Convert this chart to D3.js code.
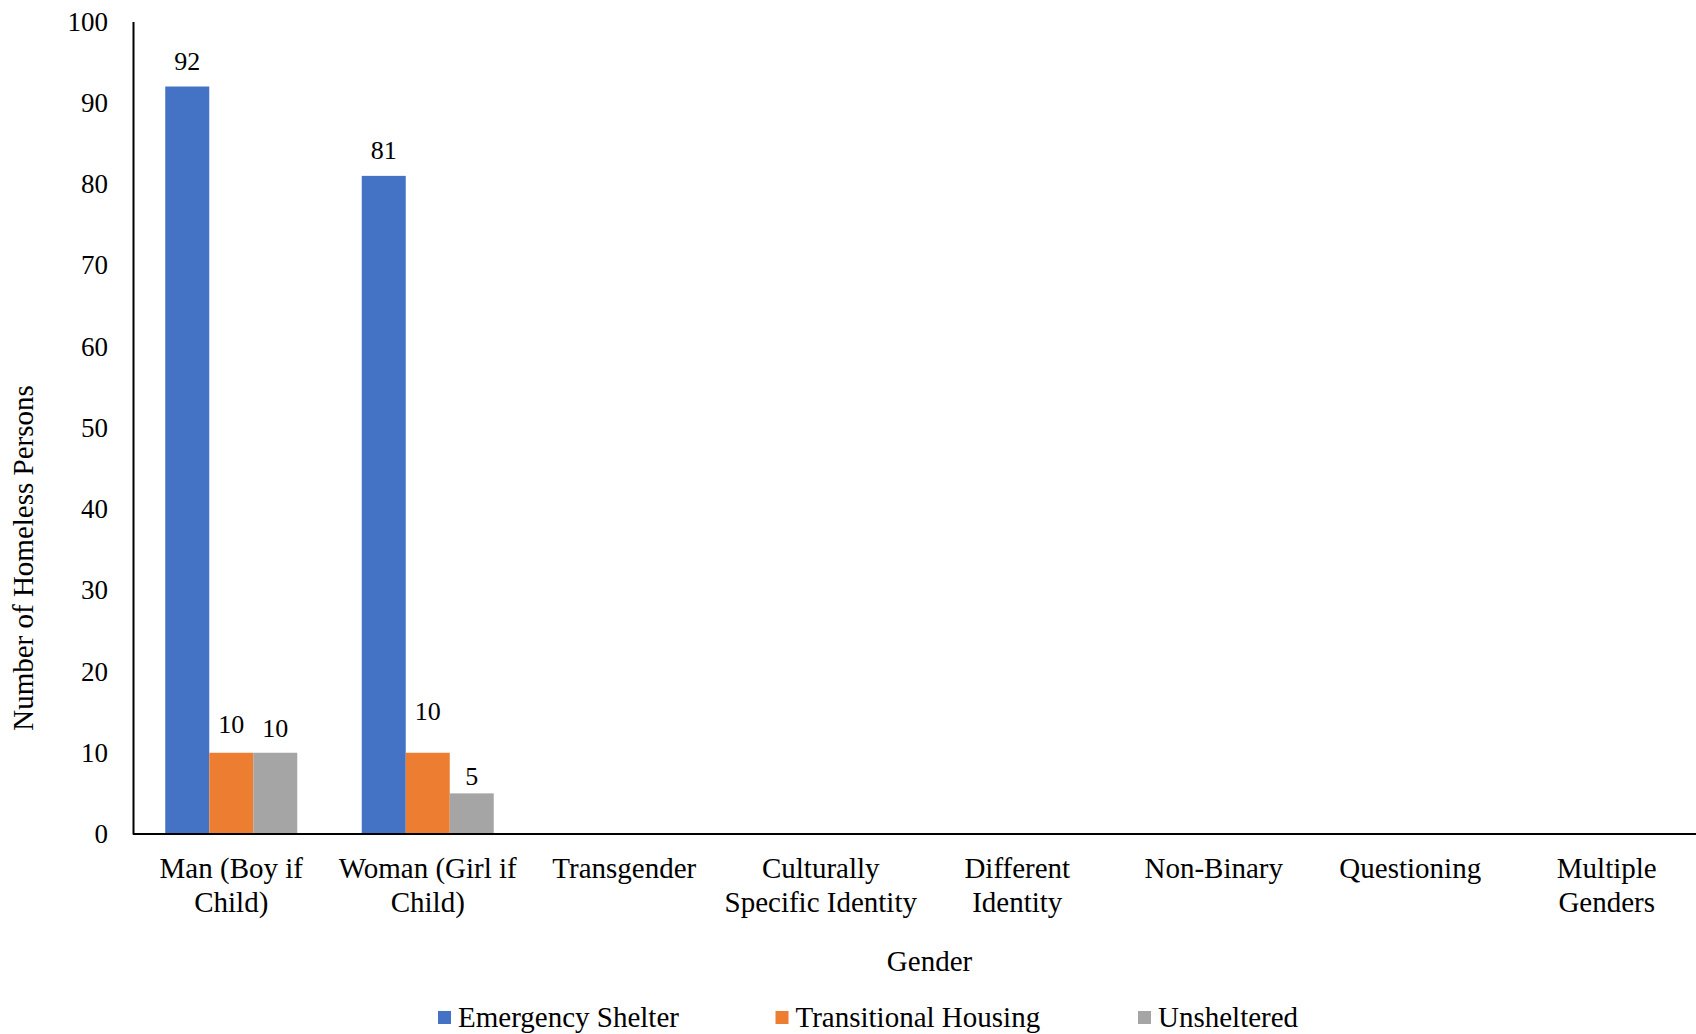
<!DOCTYPE html>
<html>
<head>
<meta charset="utf-8">
<script src="https://cdn.jsdelivr.net/npm/d3@7"></script>
<style>
  html, body { margin: 0; padding: 0; background: #fff; }
  svg { display: block; font-family: "Liberation Serif", "Times New Roman", serif; }
</style>
</head>
<body>
<svg id="chart" width="1696" height="1034"></svg>
<script>
// ---- data ----
const categories = [
  ["Man (Boy if", "Child)"],
  ["Woman (Girl if", "Child)"],
  ["Transgender"],
  ["Culturally", "Specific Identity"],
  ["Different", "Identity"],
  ["Non-Binary"],
  ["Questioning"],
  ["Multiple", "Genders"]
];
const seriesNames = ["Emergency Shelter", "Transitional Housing", "Unsheltered"];
const emergencyShelter   = [92, 81, null, null, null, null, null, null];
const transitionalHousing = [10, 10, null, null, null, null, null, null];
const unsheltered        = [10, 5, null, null, null, null, null, null];
const yTicks = [0, 10, 20, 30, 40, 50, 60, 70, 80, 90, 100];

// ---- styles / layout ----
const colors = ["#4472C4", "#ED7D31", "#A5A5A5"];
// extra vertical offset of individual data labels (px), as placed in the original
const labelNudge = { "1-0": 3, "2-0": -1, "1-1": 16, "2-1": -9 };

const seriesValues = [emergencyShelter, transitionalHousing, unsheltered];
const catKeys = categories.map(c => c.join(" "));

const svg = d3.select("#chart");
const mLeft = 133, mTop = 21.5, mBottom = 834, step = 196.5;

const x0 = d3.scaleBand().domain(catKeys).range([mLeft, mLeft + step * catKeys.length]).paddingInner(0).paddingOuter(0);
const x1 = d3.scaleBand().domain(seriesNames).range([0, x0.bandwidth()]).paddingInner(0).paddingOuter(0.733);
const y = d3.scaleLinear().domain([0, 100]).range([mBottom, mTop]);

// bars
const rows = [];
catKeys.forEach((c, i) => {
  seriesNames.forEach((s, j) => {
    const v = seriesValues[j][i];
    if (v != null) rows.push({ c, s, i, j, v });
  });
});

svg.append("g").selectAll("rect").data(rows).join("rect")
  .attr("x", d => x0(d.c) + x1(d.s))
  .attr("y", d => y(d.v))
  .attr("width", x1.bandwidth())
  .attr("height", d => y(0) - y(d.v))
  .attr("fill", d => colors[d.j]);

// data labels
svg.append("g").selectAll("text").data(rows).join("text")
  .attr("x", d => x0(d.c) + x1(d.s) + x1.bandwidth() / 2)
  .attr("y", d => y(d.v) - 17 - (labelNudge[d.j + "-" + d.i] || 0))
  .attr("text-anchor", "middle")
  .attr("font-size", 26)
  .attr("fill", "#000")
  .text(d => d.v);

// y axis
const yAxis = d3.axisLeft(y).tickValues(yTicks).tickSize(0).tickPadding(25);
const gy = svg.append("g").attr("transform", `translate(${mLeft},0)`).call(yAxis);
gy.select(".domain").attr("stroke", "#000").attr("stroke-width", 2);
gy.selectAll("text").attr("font-size", 27).attr("font-family", "Liberation Serif, Times New Roman, serif").attr("fill", "#000");

// x axis
const xAxis = d3.axisBottom(x0).tickSize(0).tickFormat("");
const gx = svg.append("g").attr("transform", `translate(0,${mBottom})`).call(xAxis);
gx.select(".domain").attr("stroke", "#000").attr("stroke-width", 2)
  .attr("d", `M${mLeft},0H1696`);

// category labels
const catG = svg.append("g");
categories.forEach((lines, i) => {
  const cx = x0(catKeys[i]) + x0.bandwidth() / 2;
  const t = catG.append("text")
    .attr("x", cx)
    .attr("y", 878)
    .attr("text-anchor", "middle")
    .attr("font-size", 29)
    .attr("fill", "#000");
  lines.forEach((ln, k) => {
    t.append("tspan").attr("x", cx).attr("dy", k === 0 ? 0 : 33.5).text(ln);
  });
});

// axis titles
svg.append("text")
  .attr("transform", `translate(33,558) rotate(-90)`)
  .attr("text-anchor", "middle")
  .attr("font-size", 29)
  .attr("fill", "#000")
  .text("Number of Homeless Persons");

svg.append("text")
  .attr("x", 929.5).attr("y", 971)
  .attr("text-anchor", "middle")
  .attr("font-size", 29)
  .attr("fill", "#000")
  .text("Gender");

// legend
const legendX = [438, 775.5, 1138];
const lg = svg.append("g");
seriesNames.forEach((s, j) => {
  lg.append("rect").attr("x", legendX[j]).attr("y", 1011).attr("width", 13).attr("height", 13).attr("fill", colors[j]);
  lg.append("text").attr("x", legendX[j] + 20).attr("y", 1027)
    .attr("font-size", 29).attr("fill", "#000").text(s);
});
</script>
</body>
</html>
